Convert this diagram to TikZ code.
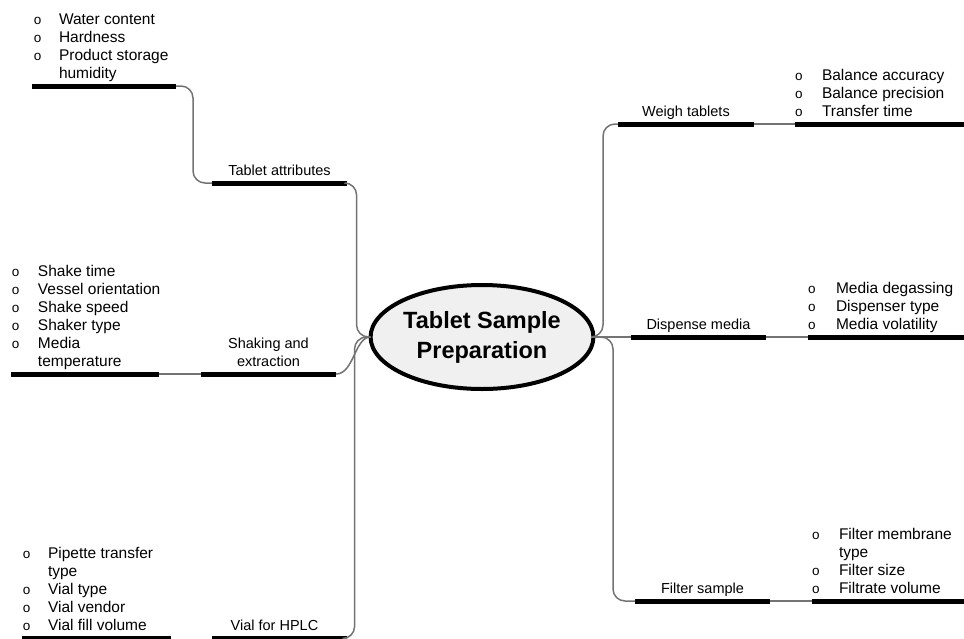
\documentclass[tikz,border=0pt]{standalone}
\usepackage{fontspec}
\setmainfont{Liberation Sans}
\usetikzlibrary{positioning,shapes.geometric}

\tikzstyle{every node}=[inner sep=0pt, outer sep=0pt]
\tikzstyle{root}=[ellipse, draw=black, line width=4pt, fill=black!6, minimum width=216pt, minimum height=104pt, align=center, font={\fontsize{23.5}{30}\selectfont\bfseries}]
\tikzstyle{bar}=[fill=black, minimum height=5pt]
\tikzstyle{lbl}=[anchor=base, font={\fontsize{14.5}{18}\selectfont}]
\tikzstyle{items}=[anchor=base west, font={\fontsize{15.5}{18}\selectfont}]
\tikzstyle{link}=[draw=black!55, line width=1.5pt]

\newcommand{\bul}{{\fontsize{13.5}{18}\selectfont o}}

\begin{document}
\begin{tikzpicture}[x=1pt, y=-1pt]
    \useasboundingbox (0,0) rectangle (964,638);

    \node [root] (root) at (482,337) {Tablet Sample\\Preparation};

    % left side
    \node [bar, minimum width=135pt] (tabattr) at (279.5,183) {};
    \node [lbl] (tabattrlbl) at ([yshift=5pt]tabattr.north) {Tablet attributes};
    \node [bar, minimum width=144pt] (tabattrlist) at (104,86) {};
    \node [items] (tabattritems) at ([xshift=2pt,yshift=5pt]tabattrlist.north west) {\begin{tabular}[b]{@{}p{25pt}@{}l@{}}
        \bul & Water content\\ \bul & Hardness\\ \bul & Product storage\\ & humidity\end{tabular}};

    \node [bar, minimum width=135pt] (shake) at (268.5,374) {};
    \node [lbl] (shakelbl) at ([yshift=5pt]shake.north) {\begin{tabular}[b]{@{}c@{}}Shaking and\\extraction\end{tabular}};
    \node [bar, minimum width=148pt] (shakelist) at (85,374) {};
    \node [items] (shakeitems) at ([xshift=1pt,yshift=5pt]shakelist.north west) {\begin{tabular}[b]{@{}p{26pt}@{}l@{}}
        \bul & Shake time\\ \bul & Vessel orientation\\ \bul & Shake speed\\ \bul & Shaker type\\ \bul & Media\\ & temperature\end{tabular}};

    \node [bar, minimum width=135pt] (vial) at (279.5,638.5) {};
    \node [lbl] (viallbl) at ([xshift=-5pt,yshift=6pt]vial.north) {Vial for HPLC};
    \node [bar, minimum width=149pt] (viallist) at (96.5,638.5) {};
    \node [items] (vialitems) at ([xshift=1pt,yshift=6pt]viallist.north west) {\begin{tabular}[b]{@{}p{25pt}@{}l@{}}
        \bul & Pipette transfer\\ & type\\ \bul & Vial type\\ \bul & Vial vendor\\ \bul & Vial fill volume\end{tabular}};

    % right side
    \node [bar, minimum width=136pt] (weigh) at (686,124) {};
    \node [lbl] (weighlbl) at ([yshift=5pt]weigh.north) {Weigh tablets};
    \node [bar, minimum width=171pt] (weighlist) at (880.5,124) {};
    \node [items] (weighitems) at ([yshift=5pt]weighlist.north west) {\begin{tabular}[b]{@{}p{27pt}@{}l@{}}
        \bul & Balance accuracy\\ \bul & Balance precision\\ \bul & Transfer time\end{tabular}};

    \node [bar, minimum width=135pt] (dispense) at (698.5,337) {};
    \node [lbl] (dispenselbl) at ([yshift=5pt]dispense.north) {Dispense media};
    \node [bar, minimum width=158pt] (dispenselist) at (887,337) {};
    \node [items] (dispenseitems) at ([yshift=5pt]dispenselist.north west) {\begin{tabular}[b]{@{}p{28pt}@{}l@{}}
        \bul & Media degassing\\ \bul & Dispenser type\\ \bul & Media volatility\end{tabular}};

    \node [bar, minimum width=135pt] (filter) at (702.5,601) {};
    \node [lbl] (filterlbl) at ([yshift=5pt]filter.north) {Filter sample};
    \node [bar, minimum width=154pt] (filterlist) at (889,601) {};
    \node [items] (filteritems) at ([yshift=5pt]filterlist.north west) {\begin{tabular}[b]{@{}p{27pt}@{}l@{}}
        \bul & Filter membrane\\ & type\\ \bul & Filter size\\ \bul & Filtrate volume\end{tabular}};

    % connectors
    \draw [link, rounded corners=12pt] (tabattrlist.east) -| ([xshift=-19pt]tabattr.west) -- (tabattr.west);
    \draw [link, rounded corners=12pt] (tabattr.east) -| ([xshift=-14pt]root.west) -- (root.west);
    \draw [link, rounded corners=12pt] (vial.east) -| ([xshift=-16pt]root.west) -- (root.west);
    \draw [link] (shake.east) .. controls +(18,0) and +(-16,0) .. (root.west);
    \draw [link] (shakelist.east) -- (shake.west);

    \draw [link, rounded corners=12pt] (root.east) -| ([xshift=-15pt]weigh.west) -- (weigh.west);
    \draw [link] (root.east) -- (dispense.west);
    \draw [link, rounded corners=12pt] (root.east) -| ([xshift=-22pt]filter.west) -- (filter.west);
    \draw [link] (weigh.east) -- (weighlist.west);
    \draw [link] (dispense.east) -- (dispenselist.west);
    \draw [link] (filter.east) -- (filterlist.west);
\end{tikzpicture}
\end{document}
